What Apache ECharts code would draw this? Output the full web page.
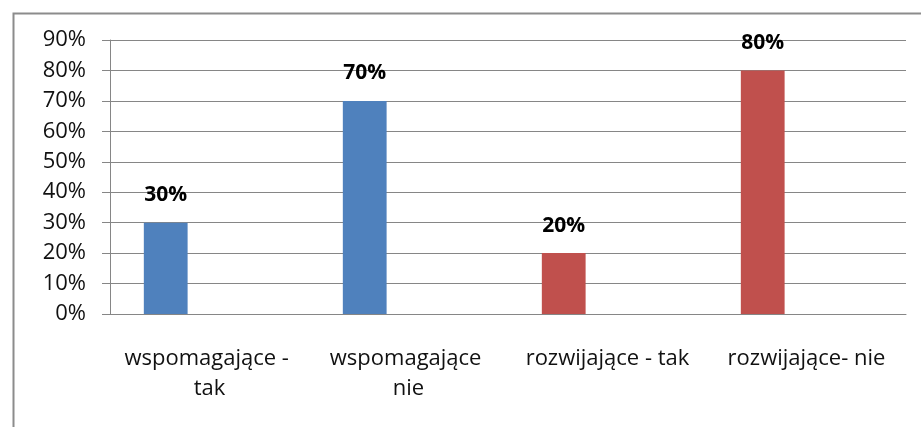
<!DOCTYPE html>
<html>
<head>
<meta charset="utf-8">
<script src="https://cdn.jsdelivr.net/npm/echarts@6/dist/echarts.min.js"></script>
<style>html,body{margin:0;padding:0;background:#fff}#c{width:921px;height:427px}</style>
</head>
<body>
<div id="c"></div>
<script>
const categories = ['wspomagające - tak', 'wspomagające nie', 'rozwijające - tak', 'rozwijające- nie'];
const values = [30, 70, 20, 80];
const barColors = ['#4F81BD', '#4F81BD', '#C0504D', '#C0504D'];
const yTicks = [0, 10, 20, 30, 40, 50, 60, 70, 80, 90];

const chart = echarts.init(document.getElementById('c'));
const font = '"Open Sans", sans-serif';
chart.setOption({
  animation: false,
  graphic: [{
    type: 'rect', left: 11, top: 11,
    shape: { width: 1000, height: 600 },
    style: { fill: 'none', stroke: '#8c8c8c', lineWidth: 2 },
    silent: true
  }],
  grid: { left: 110, right: 15, top: 40, bottom: 113 },
  xAxis: {
    type: 'category',
    data: categories,
    axisLine: { lineStyle: { color: '#868686', width: 1 } },
    axisTick: { length: 8, lineStyle: { color: '#868686' } },
    axisLabel: {
      interval: 0, margin: 30, color: '#111', fontFamily: font, fontSize: 22,
      lineHeight: 30, width: 195, overflow: 'break'
    }
  },
  yAxis: {
    type: 'value', min: yTicks[0], max: yTicks[yTicks.length - 1], interval: 10,
    axisLine: { show: true, lineStyle: { color: '#868686', width: 1 } },
    axisTick: { show: true, length: 8, lineStyle: { color: '#868686' } },
    splitLine: { lineStyle: { color: '#868686', width: 1 } },
    axisLabel: { margin: 24, color: '#111', fontFamily: font, fontSize: 22, formatter: v => v + '%' }
  },
  series: [
    {
      type: 'bar', barGap: '0%', barCategoryGap: '34%',
      data: values.map((v, i) => ({ value: v, itemStyle: { color: barColors[i] } })),
      label: {
        show: true, position: 'top', distance: 17, color: '#000',
        fontFamily: font, fontSize: 21, fontWeight: 'bold', formatter: p => p.value + '%'
      }
    },
    { type: 'bar', data: [] },
    { type: 'bar', data: [] }
  ]
});
</script>
</body>
</html>
